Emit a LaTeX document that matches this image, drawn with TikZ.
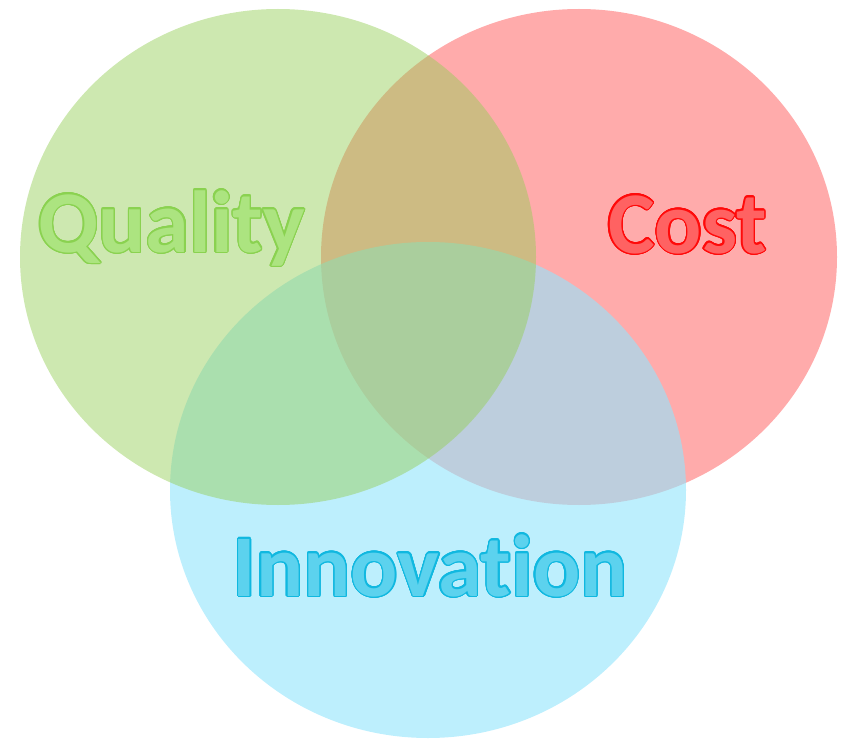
\documentclass[tikz,border=0pt]{standalone}
\usepackage{fontspec}
\setmainfont{Carlito}[Ligatures={NoCommon,NoContextual}]
\usepackage{contour}
\contourlength{1.3pt}
\contournumber{24}
\definecolor{qualityfill}{RGB}{149,206,87}
\definecolor{costfill}{RGB}{255,171,171}
\definecolor{innovfill}{RGB}{149,229,252}
\definecolor{qualitytext}{RGB}{172,228,128}
\definecolor{qualityedge}{RGB}{138,210,80}
\definecolor{costtext}{RGB}{255,98,98}
\definecolor{costedge}{RGB}{255,10,10}
\definecolor{innovtext}{RGB}{92,210,238}
\definecolor{innovedge}{RGB}{16,184,224}
\tikzset{
  setlabel/.style={anchor=base, inner sep=0pt, font=\bfseries\fontsize{88}{88}\selectfont},
}
\begin{document}
\begin{tikzpicture}[x=1pt,y=-1pt]
\useasboundingbox (0,0) rectangle (844,741);
\fill[costfill] (579,257) ellipse [x radius=258, y radius=248];
\fill[innovfill, fill opacity=0.62] (428,490) ellipse [x radius=258, y radius=248];
\fill[qualityfill, fill opacity=0.47] (278,257) ellipse [x radius=258, y radius=248];
\node[setlabel] (quality) at (171.5,252) {\contour{qualityedge}{\textcolor{qualitytext}{Quality}}};
\node[setlabel] (cost) at (687.5,253) {\contour{costedge}{\textcolor{costtext}{Cost}}};
\node[setlabel] (innovation) at (430,596) {\contour{innovedge}{\textcolor{innovtext}{Innovation}}};
\end{tikzpicture}
\end{document}
